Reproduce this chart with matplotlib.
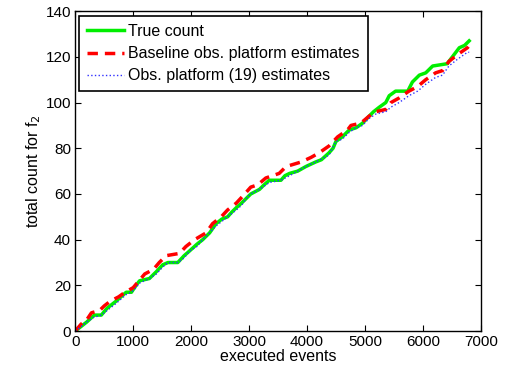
import matplotlib
matplotlib.use('Agg')
import matplotlib.pyplot as plt

plt.rcParams['font.family'] = ['Liberation Sans', 'DejaVu Sans']

# True count (knots)
true_x = [0, 100, 200, 330, 450, 550, 700, 880, 970, 1050, 1110, 1280, 1400, 1510, 1600,
          1770, 1880, 1970, 2100, 2200, 2320, 2430, 2530, 2630, 2700, 2780, 2870, 2950,
          3030, 3180, 3260, 3350, 3550, 3620, 3700, 3840, 3980, 4150, 4250, 4380, 4450,
          4500, 4610, 4730, 4850, 4960, 5070, 5150, 5250, 5360, 5420, 5530, 5740, 5820,
          5940, 6050, 6170, 6420, 6510, 6570, 6630, 6720, 6800]
true_y = [0, 2, 4, 7, 7, 10, 13, 17, 17, 20, 22, 23, 26, 29, 30,
          30, 33, 35, 38, 40, 43, 47, 49, 50, 52, 54, 56, 58,
          60, 62, 64, 66, 66, 68, 69, 70, 72, 74, 75, 78, 80,
          83, 85, 88, 89, 91, 94, 96, 98, 100, 103, 105, 105, 109,
          112, 113, 116, 117, 120, 122, 124, 125, 127]

# Baseline obs. platform estimates
base_x = [0, 100, 200, 280, 420, 500, 600, 750, 860, 1000, 1100, 1200, 1350, 1450, 1570,
          1800, 1910, 2060, 2260, 2370, 2520, 2630, 2780, 2890, 3030, 3150, 3290, 3520,
          3640, 3900, 4070, 4210, 4380, 4530, 4700, 4760, 4930, 5070, 5190, 5360, 5450,
          5590, 5760, 5910, 6050, 6220, 6340, 6450, 6600, 6770, 6800]
base_y = [0, 3, 5, 8, 9, 11, 13, 15, 17, 19, 22, 25, 27, 30, 33,
          34, 37, 40, 43, 47, 50, 53, 56, 59, 63, 64, 67, 69,
          72, 74, 76, 78, 81, 85, 88, 90, 91, 94, 96, 97, 100,
          102, 105, 107, 110, 113, 114, 118, 121, 124, 125]

# Obs. platform (19) estimates
obs_x = [0, 100, 200, 320, 450, 550, 700, 880, 970, 1050, 1110, 1280, 1400, 1510, 1600,
         1770, 1880, 1970, 2100, 2200, 2320, 2430, 2530, 2630, 2780, 2870, 2950, 3030,
         3180, 3350, 3550, 3700, 3840, 3980, 4150, 4380, 4500, 4610, 4730, 4850, 4960,
         5070, 5190, 5360, 5450, 5590, 5760, 5910, 6050, 6220, 6340, 6450, 6600, 6770, 6800]
obs_y = [0, 2, 4, 6, 7, 9, 12, 16, 17, 19, 21, 23, 25, 28, 30,
         30, 32, 35, 37, 40, 43, 46, 48, 50, 53, 55, 58, 60,
         62, 65, 66, 68, 70, 72, 74, 77, 83, 84, 87, 89, 90,
         93, 95, 96, 98, 100, 103, 105, 108, 111, 112, 116, 119, 122, 122]

fig = plt.figure(figsize=(5.05, 3.72), dpi=100)
ax = fig.add_axes([0.149, 0.110, 0.803, 0.860])

ax.plot(true_x, true_y, color='#00ee00', lw=2.5, label='True count')
ax.plot(base_x, base_y, color='red', lw=2.5, ls=(0, (3, 2)),
        label='Baseline obs. platform estimates')
ax.plot(obs_x, obs_y, color='#3030ff', lw=1, ls=':',
        label='Obs. platform (19) estimates')

ax.set_xlim(0, 7000)
ax.set_ylim(0, 140)
ax.set_xticks(range(0, 7001, 1000))
ax.set_yticks(range(0, 141, 20))
ax.tick_params(direction='in', top=True, right=True, length=4, labelsize=11, pad=3)
for s in ax.spines.values():
    s.set_linewidth(1.0)

ax.set_xlabel('executed events', fontsize=11.5, labelpad=0)
ax.set_ylabel('total count for f$_2$', fontsize=11.5, labelpad=2)

leg = ax.legend(loc='upper left', bbox_to_anchor=(0.009, 0.985), borderaxespad=0,
                fontsize=11.5, fancybox=False, edgecolor='black', framealpha=1,
                handlelength=2.3, labelspacing=0.45, handletextpad=0.3, borderpad=0.5)
leg.get_frame().set_linewidth(1.2)

fig.savefig('out.png', dpi=100)
